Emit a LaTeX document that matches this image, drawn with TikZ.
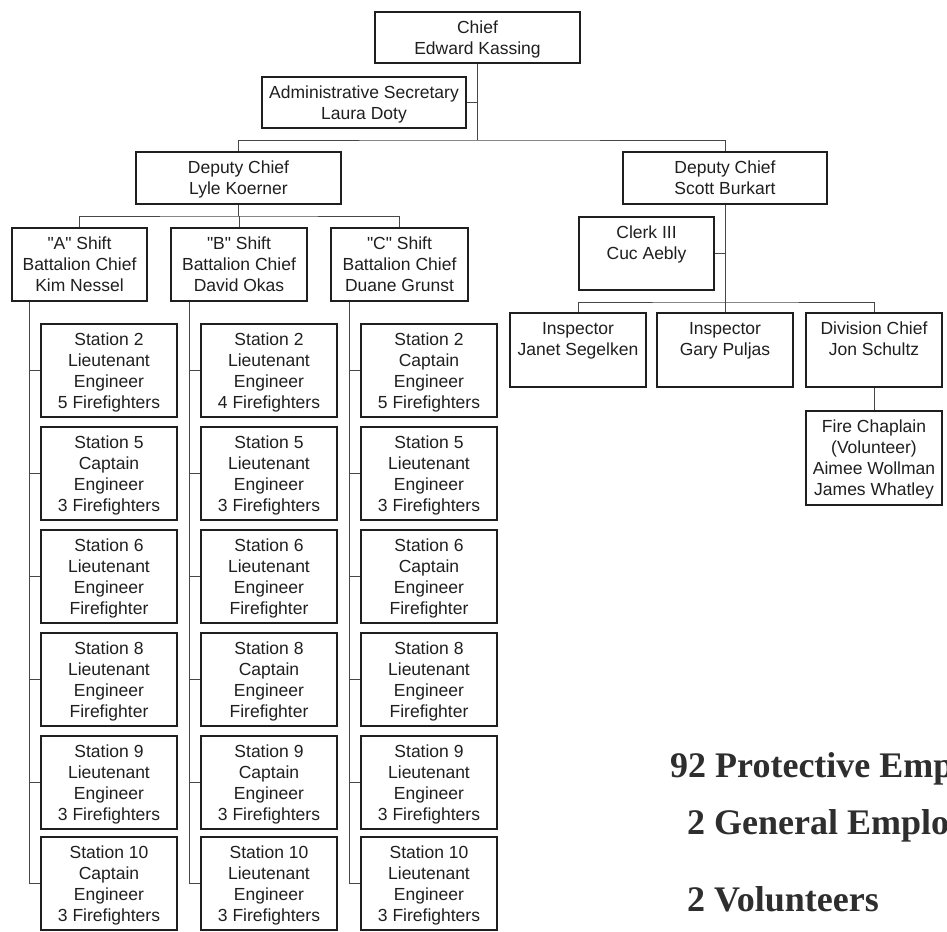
\documentclass[tikz,border=0pt]{standalone}
\usepackage{fontspec}
\setmainfont{Liberation Sans}[Ligatures=TeXOff]
\newfontfamily\serifb{Liberation Serif}
\usetikzlibrary{shadows}
\tikzset{
  orgbox/.style={draw=black!88, line width=1.2pt, fill=white, rectangle, inner sep=0pt,
    drop shadow={shadow xshift=1pt, shadow yshift=-1pt, fill=black!70, opacity=1}},
  orgtext/.style={anchor=north, inner sep=0pt, align=center,
    font=\fontsize{17.5}{21}\selectfont, text=black!88},
  link/.style={draw=black!72, line width=0.9pt},
  tally/.style={anchor=base west, inner sep=0pt,
    font=\serifb\bfseries\fontsize{36}{40}\selectfont, text=black!82}
}
\newcommand\obox[6]{%
  \node[orgbox, minimum width={(#4-#2)*1pt}, minimum height={(#5-#3)*1pt}] (#1) at ({(#2+#4)/2},{(#3+#5)/2}) {};
  \node[orgtext] (#1-t) at ({(#2+#4)/2},{#3+6}) {\rule{0pt}{15.5pt}#6};
}
\begin{document}
\begin{tikzpicture}[x=1pt,y=-1pt]
\useasboundingbox (0,0) rectangle (947,931);
\fill[white] (0,0) rectangle (947,931);
\begin{scope}
\clip (0,0) rectangle (947,931);
% top level
\obox{chief}{375}{12}{580}{63}{Chief\\Edward Kassing}
\obox{admin}{262}{77}{466}{128}{Administrative Secretary\\Laura Doty}
\obox{lyle}{136}{152}{341}{204}{Deputy Chief\\Lyle Koerner}
\obox{scott}{623}{152}{827}{204}{Deputy Chief\\Scott Burkart}
% shifts
\obox{sa}{12}{228}{147}{301}{"A" Shift\\Battalion Chief\\Kim Nessel}
\obox{sb}{171}{228}{307}{301}{"B" Shift\\Battalion Chief\\David Okas}
\obox{sc}{331}{228}{468}{301}{"C" Shift\\Battalion Chief\\Duane Grunst}
% column A
\obox{a1}{41}{324}{177}{417}{Station 2\\Lieutenant\\Engineer\\5 Firefighters}
\obox{a2}{41}{427}{177}{520}{Station 5\\Captain\\Engineer\\3 Firefighters}
\obox{a3}{41}{530}{177}{623}{Station 6\\Lieutenant\\Engineer\\Firefighter}
\obox{a4}{41}{633}{177}{726}{Station 8\\Lieutenant\\Engineer\\Firefighter}
\obox{a5}{41}{736}{177}{829}{Station 9\\Lieutenant\\Engineer\\3 Firefighters}
\obox{a6}{41}{837}{177}{930}{Station 10\\Captain\\Engineer\\3 Firefighters}
% column B
\obox{b1}{201}{324}{337}{417}{Station 2\\Lieutenant\\Engineer\\4 Firefighters}
\obox{b2}{201}{427}{337}{520}{Station 5\\Lieutenant\\Engineer\\3 Firefighters}
\obox{b3}{201}{530}{337}{623}{Station 6\\Lieutenant\\Engineer\\Firefighter}
\obox{b4}{201}{633}{337}{726}{Station 8\\Captain\\Engineer\\Firefighter}
\obox{b5}{201}{736}{337}{829}{Station 9\\Captain\\Engineer\\3 Firefighters}
\obox{b6}{201}{837}{337}{930}{Station 10\\Lieutenant\\Engineer\\3 Firefighters}
% column C
\obox{c1}{361}{324}{497}{417}{Station 2\\Captain\\Engineer\\5 Firefighters}
\obox{c2}{361}{427}{497}{520}{Station 5\\Lieutenant\\Engineer\\3 Firefighters}
\obox{c3}{361}{530}{497}{623}{Station 6\\Captain\\Engineer\\Firefighter}
\obox{c4}{361}{633}{497}{726}{Station 8\\Lieutenant\\Engineer\\Firefighter}
\obox{c5}{361}{736}{497}{829}{Station 9\\Lieutenant\\Engineer\\3 Firefighters}
\obox{c6}{361}{837}{497}{930}{Station 10\\Lieutenant\\Engineer\\3 Firefighters}
% right branch
\obox{clerk}{579}{217}{714}{290}{Clerk III\\Cuc Aebly}
\obox{janet}{510}{313}{646}{387}{Inspector\\Janet Segelken}
\obox{gary}{657}{313}{793}{387}{Inspector\\Gary Puljas}
\obox{div}{806}{313}{942}{387}{Division Chief\\Jon Schultz}
\obox{chap}{806}{411}{942}{505}{Fire Chaplain\\(Volunteer)\\Aimee Wollman\\James Whatley}
% junctions
\coordinate (j1) at (477.5,140);
\coordinate (j2) at (238.5,216);
\coordinate (j3) at (725,302);
\coordinate (ta) at (29.5,0);
\coordinate (tb) at (189,0);
\coordinate (tc) at (349,0);
% connectors
\draw[link] (chief.south) -- (j1);
\draw[link] (admin.east) -- (admin.east -| j1);
\draw[link] (lyle.north) |- (j1) -| (scott.north);
\draw[link] (lyle.south) -- (j2);
\draw[link] (sa.north) |- (j2) -| (sc.north);
\draw[link] (sb.north) -- (sb.north |- j2);
\draw[link] (ta |- sa.south) |- (a6.west);
\draw[link] (tb |- sb.south) |- (b6.west);
\draw[link] (tc |- sc.south) |- (c6.west);
\foreach \r in {1,...,5}{
  \draw[link] (ta |- a\r.west) -- (a\r.west);
  \draw[link] (tb |- b\r.west) -- (b\r.west);
  \draw[link] (tc |- c\r.west) -- (c\r.west);
}
\draw[link] (scott.south) -- (j3);
\draw[link] (clerk.east) -- (clerk.east -| j3);
\draw[link] (janet.north) |- (j3) -| (div.north);
\draw[link] (gary.north) -- (j3);
\draw[link] (div.south) -- (chap.north);
% totals (cut off at the right edge, as in the reference)
\node[tally] (t1) at (670,777) {92 Protective Employees};
\node[tally] (t2) at (687,834) {2 General Employees};
\node[tally] (t3) at (687,911) {2 Volunteers};
\end{scope}
\end{tikzpicture}
\end{document}
